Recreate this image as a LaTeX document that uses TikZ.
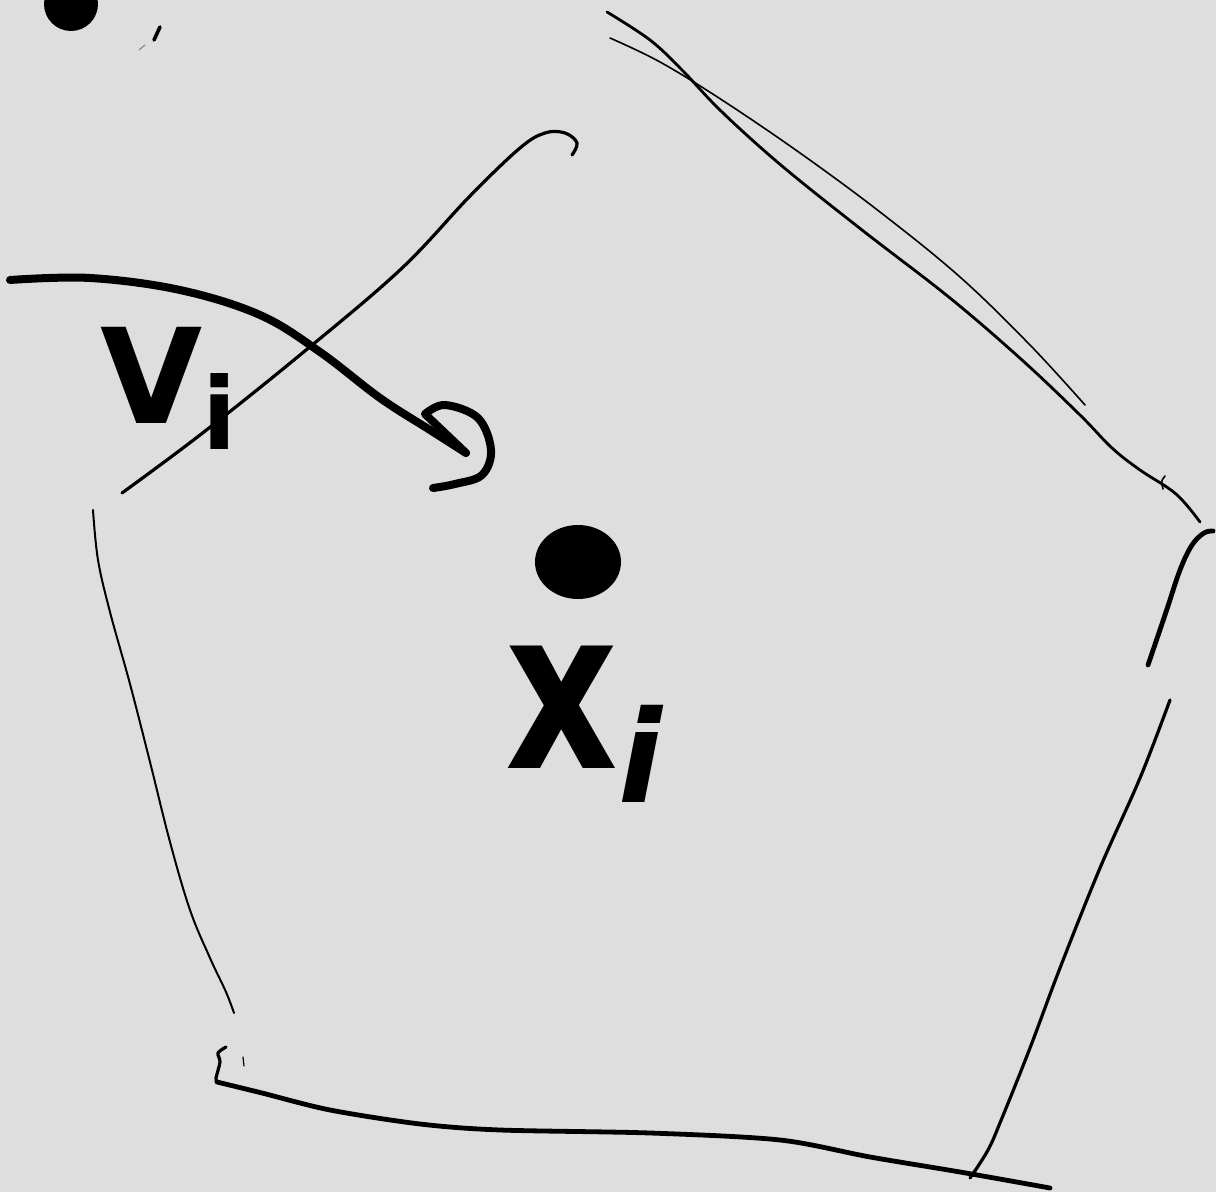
\documentclass[tikz,border=0pt]{standalone}
\usepackage{fontspec}
\setmainfont{DejaVu Sans}
\definecolor{paper}{HTML}{DEDEDE}
\tikzset{
  side/.style   ={draw=black, line width=1pt, line cap=round, line join=round},
  sidemid/.style={side, line width=1.6pt},
  sidebold/.style={side, line width=2.4pt},
  pen/.style    ={draw=black, line width=4pt, line cap=round, line join=round},
  hand/.style   ={font=\bfseries\fontsize{66}{66}\selectfont, inner sep=0pt, anchor=base west},
  handbig/.style={font=\bfseries\fontsize{112}{112}\selectfont, inner sep=0pt, anchor=base west},
}

\begin{document}
\begin{tikzpicture}[x=0.5pt, y=-0.5pt]
  \fill[paper] (0,0) rectangle (1216,1192);
  \clip (0,0) rectangle (1216,1192);
  % stray marks
  \fill (71,4) ellipse [x radius=27, y radius=27];
  \draw[side, line width=1.8pt] (160,27) -- (154,40);
  \draw[side, line width=0.5pt, black!50] (139,50) -- (145,45);
  % cell outline
  \draw[side] plot[smooth, tension=0.6] coordinates {(93,510) (98,560) (110,612) (130,684) (150,762) (170,842) (190,910) (210,958) (226,992) (234,1013)};
  \draw[sidemid] plot[smooth, tension=0.5] coordinates {(226,1047) (218,1053) (220,1062) (216,1078) (217,1082)};
  \draw[side, line width=0.6pt] (243,1057) -- (244,1066);
  \draw[sidebold] plot[smooth, tension=0.5] coordinates {(217,1082) (262,1093) (330,1110) (420,1124) (500,1130) (650,1133) (780,1140) (870,1157) (960,1172) (1050,1188)};
  \draw[sidemid] plot[smooth, tension=0.6] coordinates {(970,1178) (988,1150) (1002,1118) (1030,1048) (1060,968) (1100,868) (1140,778) (1170,700)};
  \draw[sidebold] plot[smooth, tension=0.6] coordinates {(1148,665) (1166,612) (1180,570) (1192,545) (1204,533) (1213,531)};
  \draw[side, line width=1.4pt] plot[smooth, tension=0.6] coordinates {(607,12) (650,40) (682,70) (722,112) (782,166) (862,230) (950,298) (1022,360) (1080,415) (1112,448) (1140,470) (1176,494) (1200,522)};
  \draw[side, line width=0.8pt] plot[smooth, tension=0.6] coordinates {(610,38) (660,62) (722,100) (800,153) (880,212) (960,277) (1030,345) (1085,405)};
  \draw[side, line width=0.8pt] (1165,476) .. controls (1161,481) .. (1163,489);
  \draw[sidemid] plot[smooth, tension=0.6] coordinates {(122,493) (200,435) (300,355) (400,270) (470,196) (520,148) (545,133) (565,133) (577,143) (572,155)};
  % site and its label
  \fill (578,562) ellipse [x radius=43, y radius=37];
  \node[handbig] (xlabel) at (505,768) {\scalebox{0.78}[1]{x}\raisebox{-17pt}{\fontsize{64}{64}\selectfont\itshape i}};
  % region label and arrow
  \node[hand] (vlabel) at (100,424) {V\raisebox{-13pt}{\fontsize{50}{50}\selectfont i}};
  \draw[pen] plot[smooth, tension=0.6] coordinates {(10,280) (90,278) (180,290) (260,315) (320,352) (380,398) (430,430) (466,453)};
  \draw[pen] (466,453) -- (425,414) plot[smooth, tension=0.6] coordinates {(425,414) (445,405) (478,418) (491,450) (482,475) (455,484) (433,488)};
\end{tikzpicture}
\end{document}
